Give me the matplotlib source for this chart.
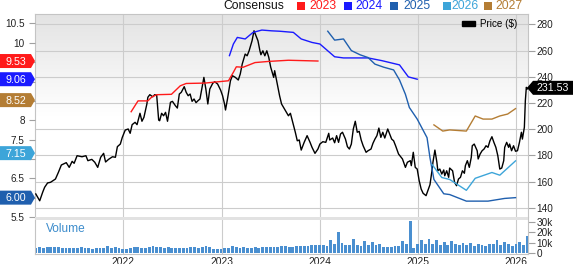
import numpy as np
import matplotlib
matplotlib.use('Agg')
import matplotlib.pyplot as plt
from matplotlib.patches import Polygon, Rectangle, Patch
from matplotlib.colors import to_rgb

plt.rcParams['font.family'] = ['Liberation Sans', 'DejaVu Sans']

# price ($), decimal year -> close
price = [(2021.11,150.5),(2021.15,145.3),(2021.18,151.8),(2021.20,155.6),(2021.23,158.9),(2021.26,159.4),
         (2021.31,161.9),(2021.34,167.0),(2021.37,172.6),(2021.42,174.4),(2021.45,170.8),(2021.48,175.4),
         (2021.50,173.9),(2021.53,179.7),(2021.58,178.9),(2021.62,179.7),(2021.64,175.9),(2021.68,176.9),
         (2021.71,174.7),(2021.74,170.8),(2021.77,178.5),(2021.80,181.5),(2021.82,174.9),(2021.85,176.9),
         (2021.89,178.9),(2021.92,178.5),(2021.94,186.6),(2021.97,188.6),(2021.99,193.7),(2022.02,199.3),
         (2022.05,200.1),(2022.07,196.8),(2022.09,203.4),(2022.12,205.2),(2022.14,203.4),(2022.17,212.1),
         (2022.19,206.0),(2022.21,209.0),(2022.24,219.2),(2022.25,224.3),(2022.27,226.3),(2022.30,224.7),
         (2022.32,226.3),(2022.34,225.8),(2022.36,206.9),(2022.37,206.4),(2022.39,212.1),(2022.41,210.2),
         (2022.43,212.8),(2022.45,206.0),(2022.48,220.5),(2022.50,221.2),(2022.53,217.9),(2022.55,216.1),
         (2022.57,226.8),(2022.59,228.1),(2022.62,232.4),(2022.64,228.1),(2022.66,225.5),(2022.68,226.8),
         (2022.70,221.2),(2022.72,223.0),(2022.74,220.2),(2022.76,221.7),(2022.78,223.0),(2022.82,239.5),
         (2022.84,230.6),(2022.86,219.2),(2022.88,230.6),(2022.91,235.0),(2022.93,236.2),(2022.96,234.4),
         (2022.99,229.8),(2023.01,225.5),(2023.03,219.2),(2023.04,214.6),(2023.06,223.0),(2023.09,236.9),
         (2023.11,240.8),(2023.14,239.5),(2023.17,237.5),(2023.19,242.1),(2023.21,249.7),(2023.24,257.3),
         (2023.26,256.0),(2023.28,259.8),(2023.31,267.5),(2023.33,275.1),(2023.35,271.3),(2023.37,267.5),
         (2023.39,259.8),(2023.40,256.8),(2023.42,259.8),(2023.44,256.0),(2023.46,259.8),(2023.48,254.8),
         (2023.50,247.2),(2023.53,239.5),(2023.54,244.6),(2023.57,233.1),(2023.59,225.5),(2023.61,219.2),
         (2023.64,215.3),(2023.68,210.2),(2023.70,212.1),(2023.72,206.4),(2023.75,197.6),(2023.77,191.1),
         (2023.79,191.7),(2023.81,184.0),(2023.84,189.9),(2023.87,195.0),(2023.90,189.9),(2023.92,186.1),
         (2023.95,181.5),(2023.98,184.8),(2024.00,188.6),(2024.03,190.4),(2024.06,189.9),(2024.09,196.8),
         (2024.10,191.7),(2024.13,193.2),(2024.15,189.6),(2024.17,195.0),(2024.19,189.9),(2024.21,196.3),
         (2024.23,197.6),(2024.26,192.4),(2024.28,186.6),(2024.30,184.8),(2024.32,188.6),(2024.34,200.1),
         (2024.36,206.0),(2024.38,197.6),(2024.40,198.3),(2024.42,191.7),(2024.44,187.3),(2024.47,182.3),
         (2024.49,183.5),(2024.52,184.8),(2024.54,189.2),(2024.56,192.4),(2024.58,195.0),(2024.60,200.8),
         (2024.62,193.7),(2024.64,197.6),(2024.66,193.2),(2024.69,200.1),(2024.71,196.3),(2024.73,192.4),
         (2024.75,191.1),(2024.77,187.3),(2024.80,181.0),(2024.84,177.2),(2024.87,170.8),(2024.89,174.7),
         (2024.92,175.9),(2024.93,172.1),(2024.95,182.3),(2024.97,170.8),(2024.99,169.5),(2025.01,160.6),
         (2025.03,154.3),(2025.05,151.0),(2025.08,149.2),(2025.10,153.5),(2025.12,157.6),(2025.14,168.2),
         (2025.15,174.7),(2025.17,184.0),(2025.19,174.7),(2025.20,168.2),(2025.22,169.5),(2025.24,165.7),
         (2025.26,168.8),(2025.27,164.4),(2025.29,168.2),(2025.31,163.2),(2025.32,170.3),(2025.35,168.2),
         (2025.37,159.4),(2025.39,156.8),(2025.41,161.9),(2025.43,163.2),(2025.45,168.2),(2025.47,166.3),
         (2025.48,172.1),(2025.50,175.9),(2025.52,170.8),(2025.54,178.5),(2025.55,187.3),(2025.57,188.6),
         (2025.60,183.5),(2025.61,177.2),(2025.63,181.0),(2025.65,183.5),(2025.67,184.8),(2025.69,187.3),
         (2025.71,186.1),(2025.73,191.1),(2025.75,194.2),(2025.77,189.9),(2025.79,186.1),(2025.81,179.7),
         (2025.83,169.5),(2025.85,170.3),(2025.87,175.9),(2025.88,186.1),(2025.90,189.9),(2025.92,186.1),
         (2025.93,188.6),(2025.95,183.5),(2025.97,187.3),(2025.99,183.1),(2026.01,183.5),(2026.03,189.9),
         (2026.05,197.6),(2026.06,192.4),(2026.08,201.4),(2026.09,221.7),(2026.10,231.9),(2026.11,230.6),
         (2026.12,231.53)]

# consensus EPS estimates by fiscal year
eps_2023 = [(2022.08,8.22),(2022.15,8.50),(2022.25,8.50),(2022.29,8.60),(2022.34,8.66),(2022.49,8.67),
            (2022.58,8.89),(2022.64,8.95),(2022.83,8.96),(2023.07,9.02),(2023.12,9.24),(2023.15,9.38),
            (2023.22,9.37),(2023.34,9.49),(2023.48,9.52),(2023.68,9.55),(2023.98,9.53)]
eps_2024 = [(2023.08,9.67),(2023.12,9.97),(2023.16,10.14),(2023.24,10.10),(2023.32,10.27),(2023.41,10.33),
            (2023.51,10.31),(2023.59,10.30),(2023.73,10.27),(2023.81,10.10),(2023.92,10.01),(2024.00,9.97),
            (2024.15,9.64),(2024.24,9.61),(2024.49,9.61),(2024.63,9.54),(2024.81,9.43),(2024.90,9.12),
            (2024.99,9.06)]
eps_2025 = [(2024.08,10.30),(2024.15,10.07),(2024.24,10.10),(2024.32,9.80),(2024.41,9.69),(2024.49,9.62),
            (2024.56,9.45),(2024.65,9.37),(2024.75,9.30),(2024.81,9.04),(2024.87,8.67),(2024.91,8.33),
            (2024.99,8.03),(2025.09,7.55),(2025.12,7.03),(2025.16,6.47),(2025.26,6.10),(2025.32,6.08),
            (2025.49,5.91),(2025.71,5.91),(2025.88,5.98),(2025.99,6.00)]
eps_2026 = [(2025.14,6.86),(2025.24,6.52),(2025.32,6.47),(2025.49,6.19),(2025.58,6.50),(2025.75,6.65),
            (2025.83,6.58),(2025.99,6.95)]
eps_2027 = [(2025.16,7.88),(2025.25,7.72),(2025.32,7.75),(2025.49,7.72),(2025.58,8.11),(2025.66,8.03),
            (2025.75,8.03),(2025.83,8.11),(2025.91,8.16),(2025.99,8.30)]

series_years = ['2023', '2024', '2025', '2026', '2027']
series_colors = ['#ff1a1a', '#1a1aff', '#1f5fae', '#3da5d9', '#b47d34']
tag_values = [9.53, 9.06, 6.00, 7.15, 8.52]

# left axis ticks; the ones sitting under the value tags are left blank
eps_ticks = [5.5, 6, 6.5, 7, 7.5, 8, 8.5, 9, 9.5, 10, 10.5]
eps_tick_labels = ['5.5', '', '6.5', '', '7.5', '8', '', '', '', '10', '10.5']

# volume (thousands), one bar every two weeks from Feb 2021
vol_start = 2021.11
volume = [5.5, 5.8, 5.2, 5.6, 6.3, 6.0, 6.5, 5.4, 5.0, 5.3, 4.8, 5.1, 5.6, 4.9, 5.0, 4.6, 5.2, 5.0, 5.4, 6.8,
          5.3, 6.2, 5.5,
          4.2, 4.6, 5.4, 5.8, 6.0, 5.5, 5.0, 6.4, 6.8, 6.2, 5.8, 5.4, 5.6, 5.0, 5.2, 4.8, 5.5, 5.1, 5.8, 6.0,
          5.4, 6.5, 6.9, 5.6, 4.4, 3.8,
          4.0, 5.0, 5.4, 7.3, 6.0, 5.2, 5.6, 5.0, 5.5, 5.8, 5.3, 6.2, 5.8, 6.0, 6.5, 5.6, 6.8, 7.0, 6.4, 6.0,
          7.2, 6.8, 7.4, 6.9, 7.8, 8.2,
          7.6, 8.2, 7.0, 12.8, 9.0, 20.5, 9.5, 8.0, 7.6, 13.8, 8.4, 7.2, 11.5, 8.0, 10.5, 7.8, 8.6, 6.5, 6.0,
          5.6, 6.8, 7.4, 12.3, 8.8, 31.5, 5.0,
          9.2, 12.8, 8.6, 13.5, 9.0, 12.6, 8.2, 11.0, 7.6, 11.4, 8.8, 7.8, 9.6, 8.4, 10.2, 7.4, 9.0, 8.0, 6.8,
          8.6, 9.4, 12.8, 8.0, 10.4, 9.0, 6.6,
          8.8, 10.4, 7.6, 16.8]

years = [2022, 2023, 2024, 2025, 2026]

W, H = 573, 264
fig = plt.figure(figsize=(W / 100, H / 100), dpi=100)

def fx(px):
    return px / W

def fy(py):
    return 1 - py / H

main_pos = [fx(35), fy(217), fx(528) - fx(35), fy(14) - fy(217)]
vol_pos = [fx(35), fy(254), fx(528) - fx(35), fy(217) - fy(254)]
xlim = (2021.102, 2026.117)
grid_c = '#cccccc'
spine_c = '#c4c4c4'
tick_c = '#a0a0a0'

# background gradient of the price panel
bg = fig.add_axes(main_pos, zorder=-1)
t = np.linspace(0, 1, 200)
k = np.clip(t / 0.5, 0, 1)[:, None]
top = np.array(to_rgb('#e3e3e3'))
grad = top * (1 - k) + np.ones(3) * k
bg.imshow(grad[:, None, :], extent=[0, 1, 0, 1], aspect='auto')
bg.axis('off')

ax = fig.add_axes(main_pos)
ax.set_facecolor('none')
ax2 = ax.twinx()

pt, pv = zip(*price)
ax.plot(pt, pv, color='black', lw=1.0, zorder=3)
ax.set_xlim(*xlim)
ax.set_ylim(132.9, 287.9)
ax.yaxis.tick_right()
ax.set_yticks(range(140, 281, 20))
ax.set_xticks(years)
ax.tick_params(axis='x', length=0, labelbottom=False)
ax.tick_params(axis='y', left=False, right=True, labelleft=False, labelright=True, length=4.7, width=0.8,
               color=tick_c, labelsize=7.2, pad=1.5, labelcolor='#222222')
ax.grid(True, color=grid_c, lw=0.8)
for s in ax.spines.values():
    s.set_color(spine_c)
    s.set_linewidth(0.8)
ax.spines['bottom'].set_visible(False)

for s in ax2.spines.values():
    s.set_visible(False)
for data, c in zip([eps_2023, eps_2024, eps_2025, eps_2026, eps_2027], series_colors):
    et, ev = zip(*data)
    ax2.plot(et, ev, color=c, lw=1.0)
ax2.set_ylim(5.5, 10.745)
ax2.yaxis.tick_left()
ax2.set_yticks(eps_ticks)
ax2.set_yticklabels(eps_tick_labels)
ax2.tick_params(axis='y', left=True, right=False, labelleft=True, labelright=False, length=4.3, width=0.8,
                color=tick_c, labelsize=7.2, pad=3, labelcolor='#222222')
ax2.legend(handles=[Patch(color='black')], labels=['Price ($)'], loc='upper right',
           bbox_to_anchor=(0.978, 0.975), frameon=False, fontsize=7.1, handlelength=1.3,
           handleheight=0.45, handletextpad=0.5, borderpad=0, borderaxespad=0)

# volume panel
axv = fig.add_axes(vol_pos)
vt = vol_start + np.arange(len(volume)) / 26
axv.bar(vt, volume, width=0.75 / 26, color='#4a8fd0', zorder=2)
axv.set_xlim(*xlim)
axv.set_ylim(-0.67, 34.9)
axv.yaxis.tick_right()
axv.set_yticks([0, 10, 20, 30])
axv.set_yticklabels(['0', '10k', '20k', '30k'])
axv.set_xticks(years)
axv.set_xticklabels([str(y) for y in years])
axv.tick_params(axis='x', length=0, pad=2, labelsize=7.4, labelcolor='#222222')
axv.tick_params(axis='y', length=4.7, width=0.8, color=tick_c, labelsize=7.2, pad=1.5, labelcolor='#222222')
axv.grid(True, axis='x', color=grid_c, lw=0.8, zorder=0)
axv.set_axisbelow(True)
for s in axv.spines.values():
    s.set_color(spine_c)
    s.set_linewidth(0.8)
axv.spines['top'].set_visible(False)
axv.add_patch(Rectangle((0, (254 - 219.5) / 37), 1, 2.5 / 37, transform=axv.transAxes,
                        fc='#e2e2e2', ec='none', zorder=3, clip_on=False))
axv.text((45.5 - 35) / 493, (254 - 229) / 37, 'Volume', transform=axv.transAxes, color='#3c8ccc',
         fontsize=8.6, va='center', ha='left')

# top legend
fig.text(fx(223), fy(6), 'Consensus', fontsize=8.7, va='center', ha='left', color='#111111')
sq_x = [297, 344, 390, 443, 484]
txt_x = [309, 355, 403, 451, 495]
for yr, c, sx, tx in zip(series_years, series_colors, sq_x, txt_x):
    fig.add_artist(Rectangle((fx(sx), fy(9.5)), fx(8), 8 / H, transform=fig.transFigure, fc=c, ec='none'))
    fig.text(fx(tx), fy(6), yr, fontsize=8.7, va='center', ha='left', color=c)

inv = fig.transFigure.inverted()

def tag_y(axis, val):
    return inv.transform(axis.transData.transform((0, val)))[1]

for val, c in zip(tag_values, series_colors):
    y = tag_y(ax2, val)
    h = 7 / H
    verts = [(0, y + h), (fx(31), y + h), (fx(35), y), (fx(31), y - h), (0, y - h)]
    fig.add_artist(Polygon(verts, closed=True, transform=fig.transFigure, fc=c, ec='none'))
    fig.text(fx(15.5), y - 0.5 / H, '%.2f' % val, color='white', fontsize=7.7, ha='center', va='center')

y = tag_y(ax, pv[-1])
h = 7 / H
verts = [(fx(527), y), (fx(533), y + h), (1, y + h), (1, y - h), (fx(533), y - h)]
fig.add_artist(Polygon(verts, closed=True, transform=fig.transFigure, fc='black', ec='none'))
fig.text(fx(553), y - 0.5 / H, '%.2f' % pv[-1], color='white', fontsize=7.7, ha='center', va='center')

fig.savefig('out.png', dpi=100)
